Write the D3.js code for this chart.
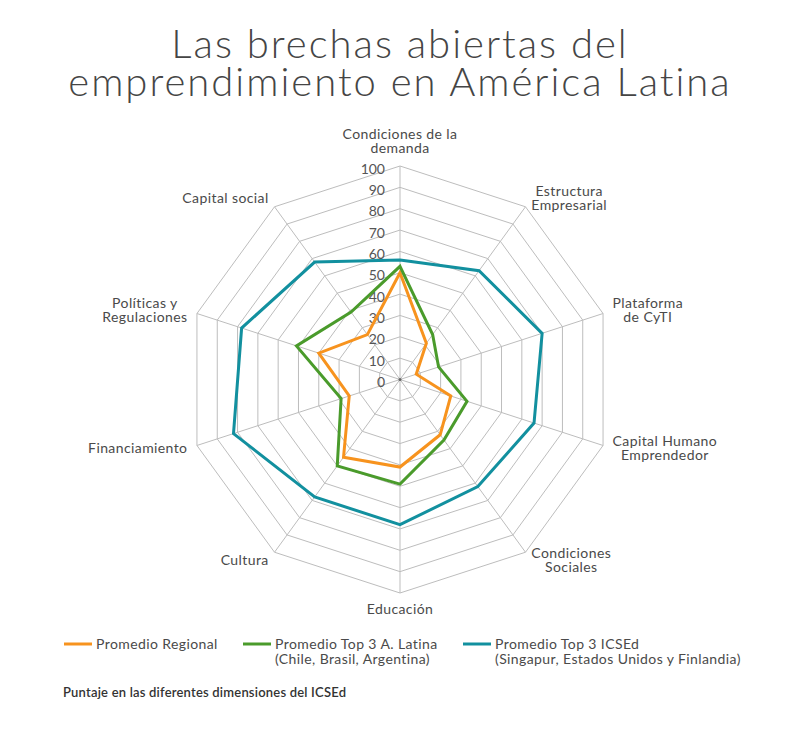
<!DOCTYPE html>
<html>
<head>
<meta charset="utf-8">
<script src="https://cdn.jsdelivr.net/npm/d3@7"></script>
<style>
  body { margin: 0; background: #fff; }
  svg { display: block; font-family: Lato, "Noto Sans", sans-serif; }
</style>
</head>
<body>
<svg id="chart" width="800" height="731"></svg>
<script>
// dimensiones del ICSEd, en el orden de las agujas del reloj desde arriba
const dimensiones = ['Condiciones de la\ndemanda', 'Estructura\nEmpresarial', 'Plataforma\nde CyTI',
  'Capital Humano\nEmprendedor', 'Condiciones\nSociales', 'Educación', 'Cultura',
  'Financiamiento', 'Políticas y\nRegulaciones', 'Capital social'];

const promedioRegional = [50, 21, 8, 25, 32, 41, 45, 25, 40, 26];
const top3ALatina = [53, 26, 19, 33, 35, 49, 50, 29, 51, 39];
const top3ICSEd = [56, 63, 70, 66, 62, 68, 68, 82, 78, 68];

const ticks = [0, 10, 20, 30, 40, 50, 60, 70, 80, 90, 100];

const series = [
  { name: 'Promedio Regional', sub: '', values: promedioRegional, color: '#f7931e' },
  { name: 'Promedio Top 3 A. Latina', sub: '(Chile, Brasil, Argentina)', values: top3ALatina, color: '#4a9b2b' },
  { name: 'Promedio Top 3 ICSEd', sub: '(Singapur, Estados Unidos y Finlandia)', values: top3ICSEd, color: '#12909f' }
];

const svg = d3.select('#chart');
const cx = 400, cy = 379.5;
const r = d3.scaleLinear().domain([0, 100]).range([0, 213.5]);
const ang = d3.scaleLinear().domain([0, dimensiones.length]).range([0, 2 * Math.PI]);

// title
svg.append('text')
  .attr('x', 400).attr('y', 58)
  .attr('text-anchor', 'middle')
  .style('font-size', '40px').style('font-weight', 300).style('fill', '#454545')
  .style('letter-spacing', '2px')
  .selectAll('tspan')
  .data(['Las brechas abiertas del', 'emprendimiento en América Latina'])
  .join('tspan')
  .attr('x', 400).attr('dy', (d, i) => i ? 38 : 0)
  .text(d => d);

const g = svg.append('g').attr('transform', `translate(${cx},${cy})`);

// grid rings
const ring = d3.lineRadial().curve(d3.curveLinearClosed);
g.selectAll('path.ring')
  .data(ticks.slice(1))
  .join('path')
  .attr('class', 'ring')
  .attr('d', t => ring(dimensiones.map((d, i) => [ang(i), r(t)])))
  .attr('fill', 'none').attr('stroke', '#bdbdbd').attr('stroke-width', 1);

// spokes
g.selectAll('line.spoke')
  .data(dimensiones)
  .join('line')
  .attr('class', 'spoke')
  .attr('x1', 0).attr('y1', 0)
  .attr('x2', (d, i) => r(100) * Math.sin(ang(i)))
  .attr('y2', (d, i) => -r(100) * Math.cos(ang(i)))
  .attr('stroke', '#bdbdbd').attr('stroke-width', 1);

g.append('circle').attr('r', 1.5).attr('fill', '#666');

// tick labels on the top axis
g.selectAll('text.tick')
  .data(ticks)
  .join('text')
  .attr('class', 'tick')
  .attr('x', -15)
  .attr('y', t => -r(t) + 7.5)
  .attr('text-anchor', 'end')
  .style('font-size', '14px').style('fill', '#555')
  .text(t => t);

// series
const line = d3.lineRadial().curve(d3.curveLinearClosed);
g.selectAll('path.serie')
  .data(series)
  .join('path')
  .attr('class', 'serie')
  .attr('d', s => line(s.values.map((v, i) => [ang(i), r(v)])))
  .attr('fill', 'none')
  .attr('stroke', s => s.color)
  .attr('stroke-width', 3)
  .attr('stroke-linejoin', 'miter');

// axis labels
const lh = 14;
dimensiones.forEach((d, i) => {
  const a = ang(i);
  const dx = Math.sin(a), dy = -Math.cos(a);
  const lines = d.split('\n');
  const vx = r(100) * dx, vy = r(100) * dy;
  let anchor = 'middle', x = vx;
  if (dx > 0.1) { anchor = 'start'; x = vx + dx * 10; }
  else if (dx < -0.1) { anchor = 'end'; x = vx + dx * 10; }
  const h = lines.length * lh;
  let yc = vy + dy * 10 + 1;
  if (Math.abs(dx) < 0.1) yc = vy + dy * (10 + h / 2);
  const t = g.append('text')
    .attr('text-anchor', 'middle')
    .style('font-size', '14px').style('letter-spacing', '0.4px').style('fill', '#4a4a4a');
  // centre multi-line labels over their widest line
  lines.forEach((l, j) => {
    t.append('tspan').attr('y', yc - h / 2 + lh * (j + 1) - 3.5).text(l);
  });
  const w = d3.max(t.selectAll('tspan').nodes(), n => n.getComputedTextLength());
  const mid = anchor === 'start' ? x + w / 2 : anchor === 'end' ? x - w / 2 : x;
  t.selectAll('tspan').attr('x', mid);
});

// legend
const legX = [64, 243, 463];
const leg = svg.selectAll('g.leg')
  .data(series)
  .join('g')
  .attr('class', 'leg')
  .attr('transform', (s, i) => `translate(${legX[i]},644)`);
leg.append('line')
  .attr('x1', 0).attr('x2', 28).attr('y1', 0).attr('y2', 0)
  .attr('stroke', s => s.color).attr('stroke-width', 3);
leg.append('text')
  .attr('x', 32).attr('y', 5)
  .style('font-size', '14px').style('letter-spacing', '0.4px').style('fill', '#4a4a4a')
  .text(s => s.name);
leg.append('text')
  .attr('x', 32).attr('y', 19.5)
  .style('font-size', '14px').style('letter-spacing', '0.4px').style('fill', '#4a4a4a')
  .text(s => s.sub);

svg.append('text')
  .attr('x', 63).attr('y', 697)
  .style('font-size', '13px').style('font-weight', 600).style('letter-spacing', '0.2px').style('fill', '#333')
  .text('Puntaje en las diferentes dimensiones del ICSEd');
</script>
</body>
</html>
